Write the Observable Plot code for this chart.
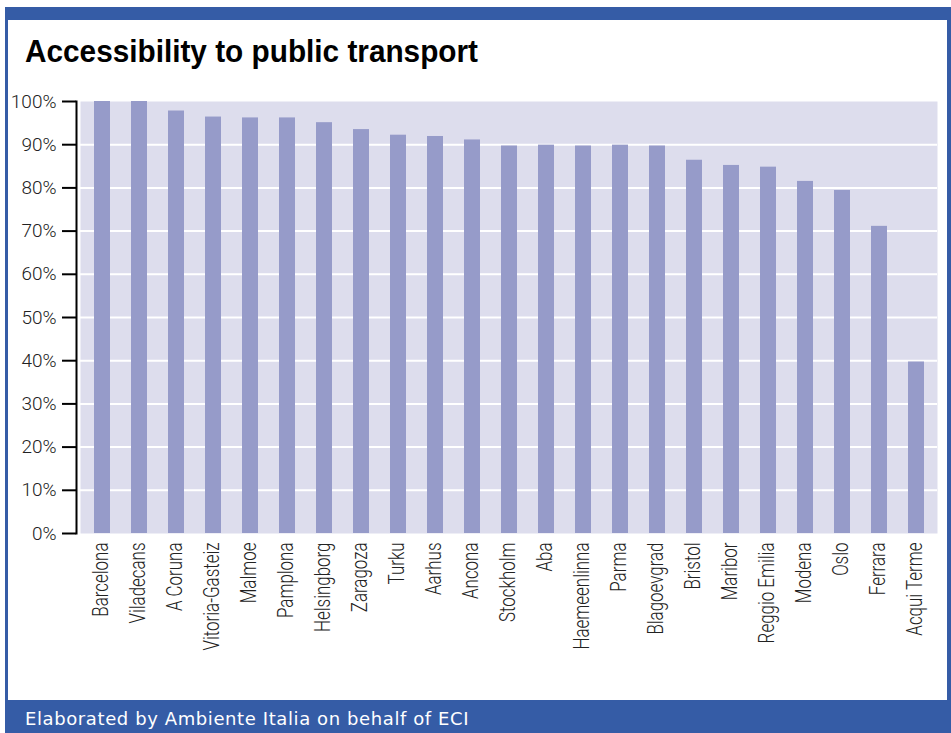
<!DOCTYPE html>
<html>
<head>
<meta charset="utf-8">
<script src="https://cdn.jsdelivr.net/npm/d3@7"></script>
<script src="https://cdn.jsdelivr.net/npm/@observablehq/plot@0.6"></script>
<style>
  html, body { margin: 0; padding: 0; background: #fff; }
  #wrap { position: relative; width: 951px; height: 733px; overflow: hidden; background: #fff; }
  #topband { position: absolute; left: 5px; top: 7px; width: 946px; height: 13px; background: #355ca6; }
  #lborder { position: absolute; left: 5px; top: 7px; width: 3px; height: 700px; background: #355ca6; }
  #rborder { position: absolute; left: 947px; top: 7px; width: 4px; height: 700px; background: #355ca6; }
  #title { position: absolute; left: 25px; top: 36px; font-family: "Liberation Sans", Arial, sans-serif; font-weight: bold; font-size: 31px; line-height: 31px; color: #000; white-space: nowrap; transform-origin: 0 0; }
  #chart { position: absolute; left: 0; top: 80px; }
  #caption { position: absolute; left: 5px; top: 700px; width: 946px; height: 33px; background: #355ca6; color: #fff; font-family: "DejaVu Sans", sans-serif; font-size: 18px; letter-spacing: 0.6px; line-height: 33px; padding-left: 20px; padding-top: 2px; box-sizing: border-box; white-space: nowrap; }
</style>
</head>
<body>
<div id="wrap">
  <div id="topband"></div>
  <div id="lborder"></div>
  <div id="rborder"></div>
  <div id="title">Accessibility to public transport</div>
  <div id="chart"></div>
  <div id="caption">Elaborated by Ambiente Italia on behalf of ECI</div>
</div>
<script>
const cities = ["Barcelona","Viladecans","A Coruna","Vitoria-Gasteiz","Malmoe","Pamplona","Helsingborg","Zaragoza","Turku","Aarhus","Ancona","Stockholm","Aba","Haemeenlinna","Parma","Blagoevgrad","Bristol","Maribor","Reggio Emilia","Modena","Oslo","Ferrara","Acqui Terme"];
const values = [100,100,97.8,96.4,96.2,96.2,95.1,93.5,92.2,91.9,91.1,89.7,89.9,89.7,89.9,89.7,86.4,85.2,84.8,81.5,79.4,71.1,39.7];
const yTicks = [0,10,20,30,40,50,60,70,80,90,100];
const gridTicks = [10,20,30,40,50,60,70,80,90];

const data = cities.map((c, i) => ({city: c, value: values[i]}));

const labelFont = "Roboto, 'Liberation Sans', sans-serif";

const chart = Plot.plot({
  width: 951,
  height: 620,
  marginTop: 21,
  marginBottom: 167,
  marginLeft: 80,
  marginRight: 14,
  style: {fontFamily: labelFont, fontSize: "18px", fontWeight: 300, color: "#222", background: "transparent"},
  x: {domain: cities, paddingInner: 0.57, paddingOuter: 0.3, label: null},
  y: {domain: [0, 100], label: null},
  marks: [
    Plot.frame({fill: "#dddded", stroke: "none"}),
    Plot.gridY(gridTicks, {stroke: "#ffffff", strokeOpacity: 1, strokeWidth: 2}),
    Plot.barY(data, {x: "city", y: "value", fill: "#969bc9"}),
    Plot.frame({anchor: "left", dx: -4, stroke: "#000", strokeWidth: 2}),
    Plot.axisY(yTicks, {tickFormat: d => d + "%", tickSize: 14, tickPadding: 6, dx: -4, strokeWidth: 2, stroke: "#000", fill: "#222", fontSize: 19, label: null}),
    Plot.axisX({tickRotate: -90, tickSize: 0, tickPadding: 9, dx: -2, fill: "#222", fontSize: 22, label: null})
  ]
});

// condense glyphs horizontally along the text baseline (the reference uses a condensed typeface)
function condense(sel, s) {
  chart.querySelectorAll(sel).forEach(t => {
    const x = parseFloat(t.getAttribute("x")) || 0;
    const tr = t.getAttribute("transform") || "";
    t.setAttribute("transform", `${tr} translate(${x},0) scale(${s},1) translate(${-x},0)`);
  });
}
condense('g[aria-label="x-axis tick label"] text', 0.77);
condense('g[aria-label="y-axis tick label"] text', 1.0);

document.getElementById("chart").appendChild(chart);

const title = document.getElementById("title");
const tw = title.getBoundingClientRect().width;
title.style.transform = `scaleX(${453 / tw})`;
</script>
</body>
</html>
